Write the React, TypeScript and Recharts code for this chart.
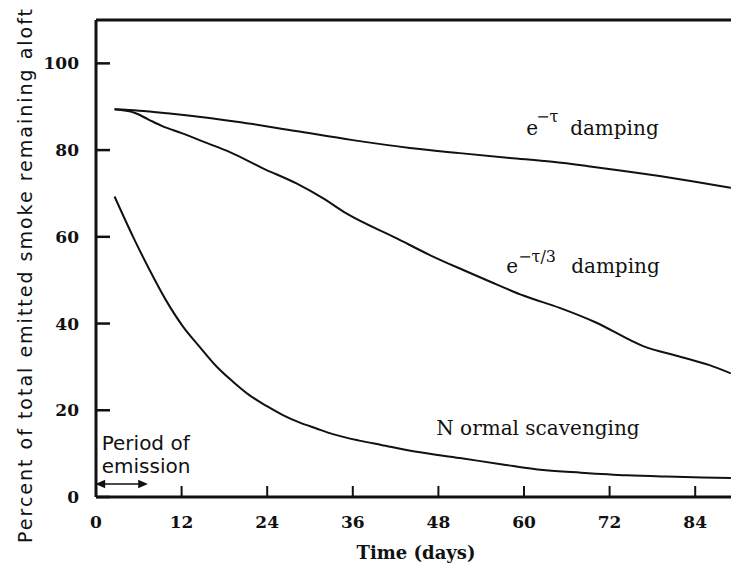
import React from 'react';
import { LineChart, Line, XAxis, YAxis, ReferenceDot, ReferenceLine } from 'recharts';

// tick values
const xTicks = [0, 12, 24, 36, 48, 60, 72, 84];
const yTicks = [0, 20, 40, 60, 80, 100];

// e^-tau damping
const tauDays = [2.6, 6, 10, 15, 20, 28, 36, 44, 51, 58, 64, 69, 74, 79, 84, 89];
const tauValues = [89.4, 89.1, 88.5, 87.6, 86.5, 84.4, 82.3, 80.5, 79.3, 78.2, 77.3, 76.3, 75.2, 74, 72.7, 71.3];

// e^-tau/3 damping
const tau3Days = [2.6, 5.4, 7.3, 9.2, 12, 15.6, 18.7, 23.4, 28.1, 31.8, 35.1, 42.1, 46.8, 51.4, 55.2, 60, 65, 70, 76.7, 82, 86, 89];
const tau3Values = [89.4, 88.6, 87.1, 85.6, 83.9, 81.6, 79.6, 75.8, 72.3, 68.9, 65.4, 59.7, 55.8, 52.4, 49.7, 46.4, 43.6, 40.3, 34.8, 32.3, 30.4, 28.5];

// normal scavenging
const normalDays = [2.6, 5.2, 7.5, 9.8, 12.2, 14.5, 16.9, 19.2, 21.5, 23.9, 26.2, 28.5, 30.9, 33.2, 36.9, 40, 44.7, 51, 57, 62.7, 68, 74.4, 80, 85, 89];
const normalValues = [69.3, 60, 52.4, 45.4, 39.3, 34.7, 30.1, 26.6, 23.5, 21, 18.9, 17.2, 15.8, 14.5, 13, 12, 10.5, 9, 7.5, 6.2, 5.6, 5, 4.7, 4.5, 4.4];

const toPoints = (days: number[], values: number[]) => days.map((day, i) => ({ day, value: values[i] }));

const INK = '#111';
const serif = '"DejaVu Serif", serif';
const sans = '"DejaVu Sans", sans-serif';

const BottomTick = ({ x, y, payload }: any) => (
  <g>
    {payload.value !== 0 && <line x1={x} x2={x} y1={y} y2={y - 11} stroke={INK} strokeWidth={2} />}
    <text x={x} y={y + 31} textAnchor="middle" fill={INK} fontFamily={serif} fontWeight={700} fontSize={17}>
      {payload.value}
    </text>
  </g>
);

const TopTick = ({ x, y, payload }: any) =>
  payload.value === 0 ? <g /> : <line x1={x} x2={x} y1={y} y2={y + 12} stroke={INK} strokeWidth={2} />;

const LeftTick = ({ x, y, payload }: any) => (
  <g>
    <line x1={x} x2={x + 14} y1={y} y2={y} stroke={INK} strokeWidth={2.5} />
    <text x={x - 17} y={y + 6} textAnchor="end" fill={INK} fontFamily={serif} fontWeight={700} fontSize={17}>
      {payload.value}
    </text>
  </g>
);

const RightTick = ({ x, y }: any) => <line x1={x} x2={x - 16} y1={y} y2={y} stroke={INK} strokeWidth={2} />;

const Note = (lines: { dx: number; dy: number; text: string; size: number; font?: string }[]) => (p: any) => (
  <g>
    {lines.map((l, i) => (
      <text key={i} x={p.cx + l.dx} y={p.cy + l.dy} fill={INK} fontFamily={l.font || serif} fontSize={l.size}>
        {l.text}
      </text>
    ))}
  </g>
);

const DoubleArrow = (p: any) => {
  const { x1, y1, x2 } = p;
  return (
    <g stroke={INK} strokeWidth={1.5} fill={INK}>
      <line x1={x1} x2={x2} y1={y1} y2={y1} />
      <path d={`M${x1},${y1} l7,-3 l0,6 z`} />
      <path d={`M${x2},${y1} l-7,-3 l0,6 z`} />
    </g>
  );
};

export default function App() {
  return (
    <div style={{ position: 'absolute', left: 0, top: 0, width: 731, height: 566, overflow: 'hidden', background: '#fff' }}>
      <LineChart width={745} height={566} margin={{ top: 0, right: 0, bottom: 0, left: 0 }}>
        <XAxis
          xAxisId="bottom"
          dataKey="day"
          type="number"
          domain={[0, 90]}
          ticks={xTicks}
          height={69}
          tickSize={0}
          tickMargin={0}
          tick={BottomTick}
          axisLine={{ stroke: INK, strokeWidth: 3 }}
          label={{
            content: () => (
              <text x={416} y={559} textAnchor="middle" fill={INK} fontFamily={serif} fontWeight={700} fontSize={18}>
                Time (days)
              </text>
            ),
          }}
        />
        <XAxis
          xAxisId="top"
          orientation="top"
          dataKey="day"
          type="number"
          domain={[0, 90]}
          ticks={xTicks}
          height={20}
          tickSize={0}
          tickMargin={0}
          tick={TopTick}
          axisLine={{ stroke: INK, strokeWidth: 3 }}
        />
        <YAxis
          yAxisId="left"
          type="number"
          domain={[0, 110]}
          ticks={yTicks}
          width={96}
          tickSize={0}
          tickMargin={0}
          tick={LeftTick}
          axisLine={{ stroke: INK, strokeWidth: 3 }}
          label={{
            content: () => (
              <text
                transform="translate(32,275) rotate(-90)"
                textAnchor="middle"
                fill={INK}
                fontFamily={sans}
                fontSize={19}
                letterSpacing={2}
              >
                Percent of total emitted smoke remaining aloft
              </text>
            ),
          }}
        />
        <YAxis
          yAxisId="right"
          orientation="right"
          type="number"
          domain={[0, 110]}
          ticks={yTicks}
          width={7}
          tickSize={0}
          tickMargin={0}
          tick={RightTick}
          axisLine={{ stroke: INK, strokeWidth: 3 }}
        />

        <Line xAxisId="bottom" yAxisId="left" data={toPoints(tauDays, tauValues)} dataKey="value" type="monotone" stroke={INK} strokeWidth={2} dot={false} isAnimationActive={false} />
        <Line xAxisId="bottom" yAxisId="left" data={toPoints(tau3Days, tau3Values)} dataKey="value" type="monotone" stroke={INK} strokeWidth={2} dot={false} isAnimationActive={false} />
        <Line xAxisId="bottom" yAxisId="left" data={toPoints(normalDays, normalValues)} dataKey="value" type="monotone" stroke={INK} strokeWidth={2} dot={false} isAnimationActive={false} />

        <ReferenceDot
          xAxisId="bottom"
          yAxisId="left"
          x={60.3}
          y={83.5}
          ifOverflow="visible"
          shape={Note([
            { dx: 0, dy: 0, text: 'e', size: 20 },
            { dx: 10, dy: -13, text: '−τ', size: 16 },
            { dx: 44, dy: 0, text: 'damping', size: 20 },
          ])}
        />
        <ReferenceDot
          xAxisId="bottom"
          yAxisId="left"
          x={57.5}
          y={51.7}
          ifOverflow="visible"
          shape={Note([
            { dx: 0, dy: 0, text: 'e', size: 20 },
            { dx: 12, dy: -11, text: '−τ/3', size: 16 },
            { dx: 65, dy: 0, text: 'damping', size: 20 },
          ])}
        />
        <ReferenceDot
          xAxisId="bottom"
          yAxisId="left"
          x={47.7}
          y={14.3}
          ifOverflow="visible"
          shape={Note([{ dx: 0, dy: 0, text: 'N ormal scavenging', size: 20 }])}
        />
        <ReferenceDot
          xAxisId="bottom"
          yAxisId="left"
          x={0.8}
          y={10.8}
          ifOverflow="visible"
          shape={Note([
            { dx: 0, dy: 0, text: 'Period of', size: 20, font: sans },
            { dx: 0, dy: 23, text: 'emission', size: 20, font: sans },
          ])}
        />
        <ReferenceLine
          xAxisId="bottom"
          yAxisId="left"
          segment={[{ x: 0.2, y: 3 }, { x: 7, y: 3 }]}
          ifOverflow="visible"
          shape={DoubleArrow}
        />
      </LineChart>
    </div>
  );
}
